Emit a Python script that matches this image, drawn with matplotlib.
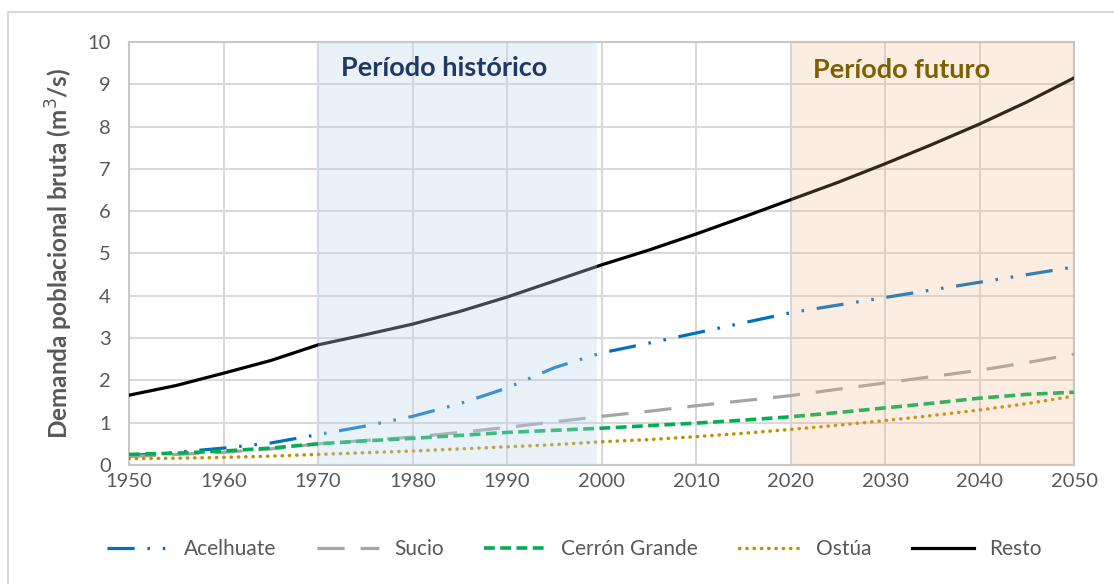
import matplotlib
matplotlib.use("Agg")
import matplotlib.pyplot as plt
from matplotlib.patches import Rectangle

years = list(range(1950, 2051, 5))
acelhuate = [0.22, 0.30, 0.40, 0.52, 0.72, 0.92, 1.15, 1.45, 1.82, 2.30, 2.65,
             2.88, 3.12, 3.36, 3.60, 3.78, 3.96, 4.14, 4.32, 4.50, 4.68]
sucio = [0.20, 0.25, 0.30, 0.38, 0.50, 0.58, 0.66, 0.77, 0.89, 1.02, 1.15,
         1.27, 1.40, 1.52, 1.64, 1.79, 1.94, 2.09, 2.24, 2.42, 2.62]
cerron = [0.25, 0.28, 0.33, 0.40, 0.50, 0.57, 0.63, 0.70, 0.77, 0.82, 0.87,
          0.93, 0.99, 1.06, 1.14, 1.24, 1.35, 1.46, 1.58, 1.67, 1.72]
ostua = [0.15, 0.16, 0.18, 0.21, 0.25, 0.29, 0.33, 0.38, 0.43, 0.48, 0.55,
         0.60, 0.67, 0.75, 0.84, 0.94, 1.05, 1.17, 1.30, 1.45, 1.63]
resto = [1.65, 1.88, 2.17, 2.47, 2.84, 3.08, 3.33, 3.63, 3.97, 4.35, 4.73,
         5.08, 5.46, 5.86, 6.27, 6.68, 7.12, 7.58, 8.06, 8.58, 9.15]
series_names = ["Acelhuate", "Sucio", "Cerrón Grande", "Ostúa", "Resto"]
historic_period = (1970, 1999.5)
future_period = (2020, 2050)
xticks = list(range(1950, 2051, 10))
yticks = list(range(0, 11))

plt.rcParams['font.family'] = ['Lato', 'DejaVu Sans']

W, H = 1114, 584
fig = plt.figure(figsize=(W / 100, H / 100), dpi=100)
ax = fig.add_axes([129 / W, (H - 465) / H, 945 / W, 423 / H])

# outer chart border
fig.patches.append(Rectangle((8 / W, -0.2), 1.5, (H - 12) / H + 0.2,
                             transform=fig.transFigure, fill=False,
                             edgecolor='#d9d9d9', lw=1.5))

ax.plot(years, acelhuate, color='#0070C0', lw=2.3,
        dashes=(8.5, 4.0, 0.8, 4.0, 0.8, 4.0), label=series_names[0], zorder=3)
ax.plot(years, sucio, color='#A5A5A5', lw=2.3,
        dashes=(8.5, 5.0), label=series_names[1], zorder=3)
ax.plot(years, cerron, color='#00B050', lw=2.6,
        dashes=(3.0, 1.5), label=series_names[2], zorder=3)
ax.plot(years, ostua, color='#BF9000', lw=2.5, linestyle=(0, (0.1, 2.0)),
        dash_capstyle='round', label=series_names[3], zorder=3)
ax.plot(years, resto, color='#000000', lw=2.3, label=series_names[4], zorder=3)

# semi-transparent period overlays on top of lines
ax.axvspan(*historic_period, color='#BDD7EE', alpha=0.33, lw=0, zorder=4)
ax.axvspan(*future_period, color='#F4B183', alpha=0.22, lw=0, zorder=4)

ax.text(1983.3, 9.38, "Período histórico", color='#203864', fontsize=19.5,
        fontweight='bold', ha='center', va='center', zorder=5)
ax.text(2031.7, 9.34, "Período futuro", color='#7F6000', fontsize=19.5,
        fontweight='bold', ha='center', va='center', zorder=5)

ax.set_xlim(1950, 2050)
ax.set_ylim(0, 10)
ax.set_xticks(xticks)
ax.set_yticks(yticks)
ax.grid(True, color='#d9d9d9', lw=1.5, zorder=1)
ax.set_axisbelow(True)
ax.tick_params(length=0, labelsize=14.5, labelcolor='#595959')
ax.tick_params(axis='y', pad=13)
ax.tick_params(axis='x', pad=6)
for s in ax.spines.values():
    s.set_color('#c8c8c8')
    s.set_linewidth(1.5)

ax.set_ylabel("Demanda poblacional bruta (m$^3$/s)", fontsize=17.5,
              fontweight='bold', color='#595959', labelpad=9)

leg = fig.legend(loc='center', bbox_to_anchor=(574 / W, 1 - 549 / H), ncol=5,
                 frameon=False, fontsize=15, labelcolor='#595959',
                 handlelength=3.0, handletextpad=0.7, columnspacing=1.95)

fig.savefig("out.png", dpi=100)
